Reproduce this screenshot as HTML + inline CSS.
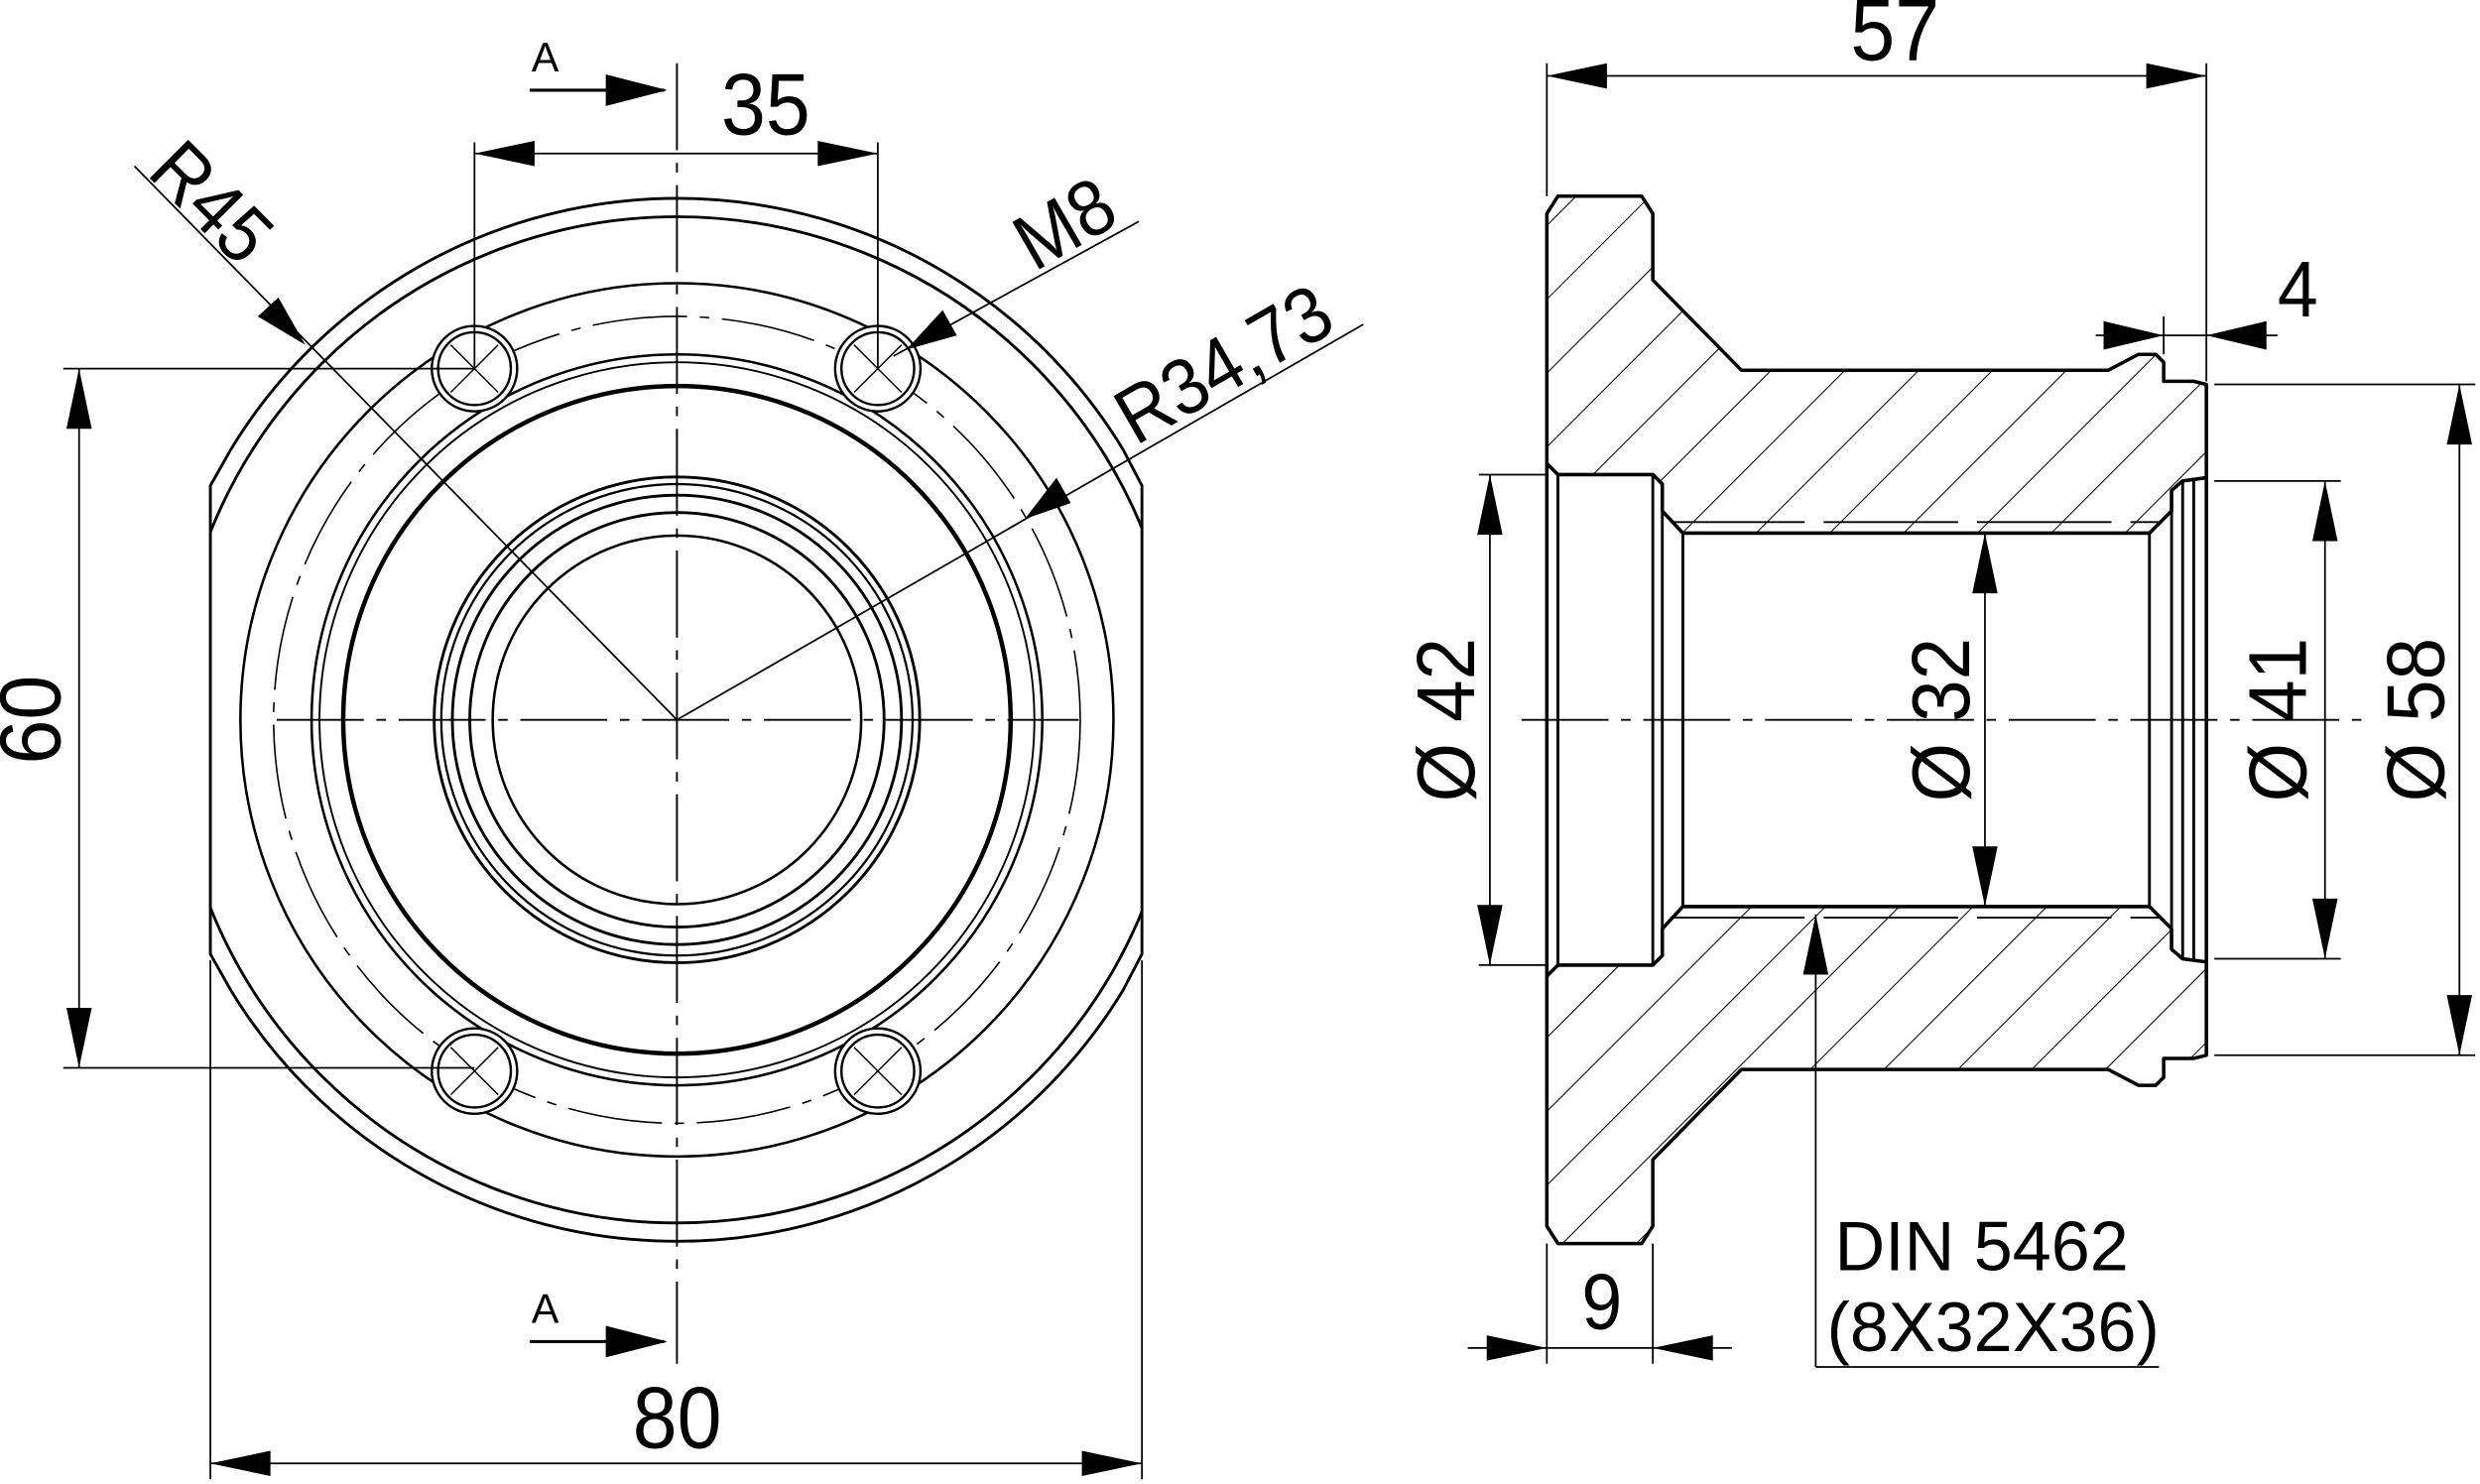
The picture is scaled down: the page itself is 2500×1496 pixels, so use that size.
<!DOCTYPE html>
<html><head><meta charset="utf-8"><style>
html,body{margin:0;padding:0;background:#fff;}
svg{display:block;}
text{font-family:"Liberation Sans",sans-serif;fill:#000;}
</style></head><body>
<svg width="2500" height="1496" viewBox="0 0 1568 938" preserveAspectRatio="none" xmlns="http://www.w3.org/2000/svg">
<defs>
<pattern id="h" patternUnits="userSpaceOnUse" width="33" height="33" patternTransform="rotate(45)">
<line x1="0" y1="0" x2="0" y2="33" stroke="#000" stroke-width="1.3"/>
</pattern>
<clipPath id="flat"><rect x="133" y="0" width="589" height="938"/></clipPath>
</defs>
<g fill="none" stroke="#000">
<!-- LEFT VIEW -->
<path d="M133,307 L146,284 A330,330 0 0 1 710,284 L722,307 L722,603 L710,626 A330,330 0 0 1 146,626 L133,603 Z" stroke-width="1.8"/>
<circle cx="428" cy="455" r="318" stroke-width="1.8" clip-path="url(#flat)"/>
<circle cx="428" cy="455" r="276" stroke-width="1.6"/>
<circle cx="428" cy="455" r="255" stroke-width="1" stroke-dasharray="60,8,6,8"/>
<circle cx="428" cy="455" r="231" stroke-width="1.6"/>
<circle cx="428" cy="455" r="226" stroke-width="1.2"/>
<circle cx="428" cy="455" r="211" stroke-width="2.8"/>
<circle cx="428" cy="455" r="153.5" stroke-width="1.8"/>
<circle cx="428" cy="455" r="149" stroke-width="1.4"/>
<circle cx="428" cy="455" r="142" stroke-width="1.8"/>
<circle cx="428" cy="455" r="131" stroke-width="1.8"/>
<circle cx="428" cy="455" r="116.5" stroke-width="1.6"/>
<!-- bolt holes -->
<g stroke-width="1.5">
<circle cx="300" cy="233" r="27" fill="#fff"/><circle cx="300" cy="233" r="23"/>
<circle cx="555" cy="233" r="27" fill="#fff"/><circle cx="555" cy="233" r="23"/>
<circle cx="300" cy="677" r="27" fill="#fff"/><circle cx="300" cy="677" r="23"/>
<circle cx="555" cy="677" r="27" fill="#fff"/><circle cx="555" cy="677" r="23"/>
</g>
<g stroke-width="0.9">
<path d="M285,218 L315,248 M315,218 L285,248"/>
<path d="M540,218 L570,248 M570,218 L540,248"/>
<path d="M285,662 L315,692 M315,662 L285,692"/>
<path d="M540,662 L570,692 M570,662 L540,692"/>
</g>
<!-- center lines -->
<line x1="428" y1="40" x2="428" y2="862" stroke-width="1.2" stroke-dasharray="55,8,6,8"/>
<line x1="175" y1="455" x2="682" y2="455" stroke-width="1.2" stroke-dasharray="55,8,6,8"/>
<g stroke-width="1.1">
<line x1="300" y1="90" x2="300" y2="233"/>
<line x1="555" y1="90" x2="555" y2="233"/>
<line x1="300" y1="97" x2="555" y2="97"/>
<line x1="40" y1="233" x2="300" y2="233"/>
<line x1="40" y1="675" x2="300" y2="675"/>
<line x1="50" y1="233" x2="50" y2="675"/>
<line x1="133" y1="607" x2="133" y2="935"/>
<line x1="722" y1="607" x2="722" y2="935"/>
<line x1="133" y1="925" x2="722" y2="925"/>
<line x1="335" y1="57" x2="420" y2="57" stroke-width="2"/>
<line x1="335" y1="848" x2="420" y2="848" stroke-width="2"/>
<line x1="85" y1="105" x2="428" y2="455"/>
<line x1="720" y1="140" x2="565" y2="225"/>
<line x1="862" y1="205" x2="428" y2="455"/>
</g>
</g>
<g fill="#000">
<polygon points="300,97 338,89 338,105"/>
<polygon points="555,97 517,89 517,105"/>
<polygon points="50,233 42,271 58,271"/>
<polygon points="50,675 42,637 58,637"/>
<polygon points="133,925 171,917 171,933"/>
<polygon points="722,925 684,917 684,933"/>
<polygon points="422,57 383,47 383,67"/>
<polygon points="422,848 383,838 383,858"/>
<polygon points="193,218 163,200 176,188"/>
<polygon points="573,221 596,196 605,212"/>
<polygon points="648,328 668,302 677,318"/>
</g>
<text font-size="55" transform="translate(456 85) scale(0.92 1)">35</text>
<text x="336" y="45" font-size="26">A</text>
<text x="336" y="836" font-size="26">A</text>
<text font-size="55" transform="translate(400 915) scale(0.92 1)">80</text>
<text font-size="55" transform="translate(38 455) rotate(-90) scale(0.92 1)" text-anchor="middle">60</text>
<text font-size="50" transform="translate(92 110) rotate(45) scale(0.92 1)">R45</text>
<text font-size="50" transform="translate(654 172) rotate(-30) scale(0.92 1)">M8</text>
<text font-size="50" transform="translate(718 282) rotate(-30) scale(0.92 1)">R34,73</text>

<!-- RIGHT VIEW -->
<g stroke="#000" stroke-width="2.2" stroke-linejoin="round">
<path fill="url(#h)" d="M978,135 L985,124 L1038,124 L1045,135 L1045,177 L1101,234 L1333,234 L1352,224 L1363,224 L1368,229 L1368,241 L1387,241 L1395,243 L1395,302 L1380,304 L1373,310 L1373,323 L1359,337 L1064,337 L1051,323 L1051,306 L1045,300 L985,300 L978,293 Z"/>
<path fill="url(#h)" d="M978,775 L985,786 L1038,786 L1045,775 L1045,733 L1101,676 L1333,676 L1352,686 L1363,686 L1368,681 L1368,669 L1387,669 L1395,667 L1395,608 L1380,606 L1373,600 L1373,587 L1359,573 L1064,573 L1051,587 L1051,604 L1045,610 L985,610 L978,617 Z"/>
<path fill="#fff" d="M978,293 L985,300 L1045,300 L1051,306 L1051,323 L1064,337 L1359,337 L1373,323 L1373,310 L1380,304 L1395,302 L1395,608 L1380,606 L1373,600 L1373,587 L1359,573 L1064,573 L1051,587 L1051,604 L1045,610 L985,610 L978,617 Z"/>
</g>
<g fill="none" stroke="#000">
<path d="M985,300 L985,610 M1045,300 L1045,610 M1051,323 L1051,587 M1064,337 L1064,573 M1359,337 L1359,573 M1373,323 L1373,587 M1380,304 L1380,606 M1387,304 L1387,606" stroke-width="1.8"/>
<line x1="1056" y1="330" x2="1366" y2="330" stroke-width="1.2" stroke-dasharray="85,12"/>
<line x1="1056" y1="580" x2="1366" y2="580" stroke-width="1.2" stroke-dasharray="85,12"/>
<line x1="962" y1="455" x2="1495" y2="455" stroke-width="1.2" stroke-dasharray="55,8,6,8"/>
<g stroke-width="1.1">
<line x1="978" y1="40" x2="978" y2="124"/>
<line x1="1395" y1="40" x2="1395" y2="241"/>
<line x1="978" y1="48" x2="1395" y2="48"/>
<line x1="1368" y1="200" x2="1368" y2="224"/>
<line x1="1325" y1="212" x2="1440" y2="212"/>
<line x1="935" y1="300" x2="978" y2="300"/>
<line x1="935" y1="610" x2="978" y2="610"/>
<line x1="942" y1="300" x2="942" y2="610"/>
<line x1="1255" y1="337" x2="1255" y2="573"/>
<line x1="1400" y1="304" x2="1480" y2="304"/>
<line x1="1400" y1="606" x2="1480" y2="606"/>
<line x1="1470" y1="304" x2="1470" y2="606"/>
<line x1="1400" y1="243" x2="1565" y2="243"/>
<line x1="1400" y1="667" x2="1565" y2="667"/>
<line x1="1555" y1="243" x2="1555" y2="667"/>
<line x1="978" y1="786" x2="978" y2="862"/>
<line x1="1045" y1="786" x2="1045" y2="862"/>
<line x1="928" y1="852" x2="1095" y2="852"/>
<line x1="1148" y1="578" x2="1148" y2="864"/>
<line x1="1148" y1="864" x2="1365" y2="864"/>
</g>
</g>
<g fill="#000">
<polygon points="978,48 1016,40 1016,56"/>
<polygon points="1395,48 1357,40 1357,56"/>
<polygon points="1368,212 1330,203 1330,221"/>
<polygon points="1395,212 1433,203 1433,221"/>
<polygon points="942,300 934,338 950,338"/>
<polygon points="942,610 934,572 950,572"/>
<polygon points="1255,337 1247,375 1263,375"/>
<polygon points="1255,573 1247,535 1263,535"/>
<polygon points="1470,304 1462,342 1478,342"/>
<polygon points="1470,606 1462,568 1478,568"/>
<polygon points="1555,243 1547,281 1563,281"/>
<polygon points="1555,667 1547,629 1563,629"/>
<polygon points="978,852 940,844 940,860"/>
<polygon points="1045,852 1083,844 1083,860"/>
<polygon points="1148,578 1140,616 1156,616"/>
</g>
<text font-size="55" transform="translate(1170 38) scale(0.92 1)">57</text>
<text font-size="50" transform="translate(1440 200) scale(0.92 1)">4</text>
<text font-size="50" transform="translate(1000 840) scale(0.92 1)">9</text>
<text font-size="52" transform="translate(932 455) rotate(-90) scale(0.92 1)" text-anchor="middle">Ø 42</text>
<text font-size="52" transform="translate(1245 455) rotate(-90) scale(0.92 1)" text-anchor="middle">Ø 32</text>
<text font-size="52" transform="translate(1458 455) rotate(-90) scale(0.92 1)" text-anchor="middle">Ø 41</text>
<text font-size="52" transform="translate(1545 455) rotate(-90) scale(0.92 1)" text-anchor="middle">Ø 58</text>
<text x="1160" y="803" font-size="44">DIN 5462</text>
<text x="1155" y="854" font-size="44">(8X32X36)</text>
</svg>
</body></html>
